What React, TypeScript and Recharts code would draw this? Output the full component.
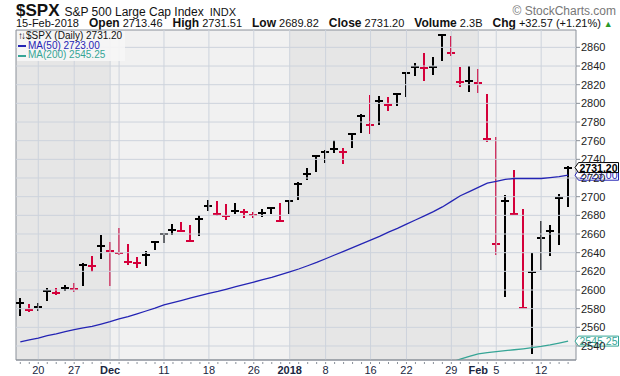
import React from "react";
import {
  ComposedChart,
  Bar,
  Line,
  XAxis,
  YAxis,
  ReferenceArea,
  ReferenceLine,
} from "recharts";

const FONT = '"Liberation Sans", Arial, Helvetica, sans-serif';

const dates = [
  "Nov 16", "Nov 17", "Nov 20", "Nov 21", "Nov 22", "Nov 24", "Nov 27", "Nov 28", "Nov 29", "Nov 30",
  "Dec 1", "Dec 4", "Dec 5", "Dec 6", "Dec 7", "Dec 8", "Dec 11", "Dec 12", "Dec 13", "Dec 14",
  "Dec 15", "Dec 18", "Dec 19", "Dec 20", "Dec 21", "Dec 22", "Dec 26", "Dec 27", "Dec 28", "Dec 29",
  "Jan 2", "Jan 3", "Jan 4", "Jan 5", "Jan 8", "Jan 9", "Jan 10", "Jan 11", "Jan 12", "Jan 16",
  "Jan 17", "Jan 18", "Jan 19", "Jan 22", "Jan 23", "Jan 24", "Jan 25", "Jan 26", "Jan 29", "Jan 30",
  "Jan 31", "Feb 1", "Feb 2", "Feb 5", "Feb 6", "Feb 7", "Feb 8", "Feb 9", "Feb 12", "Feb 13",
  "Feb 14", "Feb 15",
];

const high = [
  2590.09, 2583.96, 2584.64, 2601.19, 2600.94, 2604.21, 2606.41, 2627.69, 2634.89, 2657.74,
  2650.62, 2665.19, 2648.72, 2634.41, 2640.99, 2651.65, 2660.33, 2669.72, 2671.88, 2668.09,
  2679.63, 2694.97, 2694.44, 2691.01, 2692.64, 2685.35, 2682.74, 2685.64, 2687.66, 2692.12,
  2695.89, 2714.37, 2729.29, 2743.45, 2748.51, 2759.14, 2750.8, 2767.56, 2787.85, 2807.54,
  2807.04, 2805.83, 2810.33, 2833.03, 2842.24, 2852.97, 2848.56, 2872.87, 2870.62, 2837.75,
  2839.26, 2835.96, 2808.92, 2763.39, 2701.04, 2727.67, 2685.27, 2638.67, 2672.61, 2668.84,
  2702.1, 2731.51,
];

const low = [
  2572.95, 2577.62, 2578.24, 2589.17, 2595.23, 2600.42, 2598.87, 2605.44, 2620.32, 2633.93,
  2605.52, 2639.03, 2627.73, 2624.75, 2626.53, 2644.1, 2651.47, 2659.78, 2662.85, 2652.01,
  2659.14, 2685.92, 2680.74, 2676.11, 2682.4, 2678.13, 2677.96, 2678.91, 2682.69, 2673.61,
  2682.36, 2697.77, 2719.07, 2727.92, 2737.6, 2747.86, 2736.06, 2752.78, 2769.64, 2768.64,
  2778.38, 2792.56, 2798.08, 2808.12, 2830.59, 2824.81, 2830.94, 2846.18, 2851.48, 2818.27,
  2813.04, 2812.7, 2759.97, 2638.17, 2593.07, 2681.33, 2580.56, 2532.69, 2622.45, 2637.08,
  2648.87, 2689.82,
];

const close = [
  2585.64, 2578.85, 2582.14, 2599.03, 2597.08, 2602.42, 2601.42, 2627.04, 2626.07, 2647.58,
  2642.22, 2639.44, 2629.57, 2629.27, 2636.98, 2651.5, 2659.99, 2664.11, 2662.85, 2652.01,
  2675.81, 2690.16, 2681.47, 2679.25, 2684.57, 2683.34, 2680.5, 2682.62, 2687.54, 2673.61,
  2695.81, 2713.06, 2723.99, 2743.15, 2747.71, 2751.29, 2748.23, 2767.56, 2786.24, 2776.42,
  2802.56, 2798.03, 2810.3, 2832.97, 2839.13, 2837.54, 2839.25, 2872.87, 2853.53, 2822.43,
  2823.81, 2821.98, 2762.13, 2648.94, 2695.14, 2681.66, 2581.0, 2619.55, 2656.0, 2662.94,
  2698.63, 2731.2,
];

// close of the session before the first bar
const prevClose = 2564.62;

const ma50 = [
  2544.5, 2546.5, 2548.5, 2551, 2553, 2555.5, 2557.5, 2559.5, 2561, 2563.5,
  2566, 2569, 2571.5, 2574.5, 2577.5, 2580.5, 2584, 2586.5, 2589, 2591.5,
  2594, 2596.5, 2598.5, 2601, 2603.5, 2606, 2608.5, 2611, 2613.5, 2616.5,
  2619.5, 2622.5, 2626, 2629.5, 2633.5, 2637.5, 2641.5, 2645.5, 2649.5, 2653.5,
  2657.5, 2662, 2666, 2670.5, 2675, 2679.5, 2684, 2689, 2695, 2701,
  2705.5, 2710, 2714.5, 2716.5, 2718.5, 2719.5, 2719.5, 2719.5, 2719.5, 2720.5,
  2721.5, 2723,
];

const ma200 = [
  null, null, null, null, null, null, null, null, null, null,
  null, null, null, null, null, null, null, null, null, null,
  null, null, null, null, null, null, null, null, null, null,
  null, null, null, null, null, null, null, null, null, null,
  null, null, null, null, null, null, null, 2519, 2522.5, 2526,
  2529, 2531.5, 2533, 2534, 2535, 2536, 2537, 2538.2, 2539.5, 2541.2,
  2543.2, 2545.25,
];

const yTicks = [2540, 2560, 2580, 2600, 2620, 2640, 2660, 2680, 2700, 2720, 2740, 2760, 2780, 2800, 2820, 2840, 2860];

const xTickDates = ["Nov 20", "Nov 27", "Dec 1", "Dec 11", "Dec 18", "Dec 26", "Jan 2", "Jan 8", "Jan 16", "Jan 22", "Jan 29", "Feb 1", "Feb 5", "Feb 12"];
const xTickLabels = ["20", "27", "Dec", "11", "18", "26", "2018", "8", "16", "22", "29", "Feb", "5", "12"];
const boldLabels = ["Dec", "2018", "Feb"];
const gridDates = ["Nov 20", "Nov 27", "Dec 1", "Dec 4", "Dec 11", "Dec 18", "Dec 26", "Jan 2", "Jan 8", "Jan 16", "Jan 22", "Jan 29", "Feb 1", "Feb 5", "Feb 12"];
const darkMonths = [["Nov 16", "Dec 1"], ["Jan 2", "Feb 1"]];

const quote = [
  ["Open", "2713.46"],
  ["High", "2731.51"],
  ["Low", "2689.82"],
  ["Close", "2731.20"],
  ["Volume", "2.3B"],
  ["Chg", "+32.57 (+1.21%)"],
];

const X_MIN = -0.48;
const X_MAX = 61.88;
const Y_MIN = 2525;
const Y_MAX = 2878.6;
const UP = "#000000";
const DOWN = "#d4003a";
const MA50_COLOR = "#2424b4";
const MA200_COLOR = "#36a596";
const GRID = "#cdd3dc";

const idx = (d: string) => dates.indexOf(d);

const rows = dates.map((d, i) => ({
  i,
  date: d,
  range: [low[i], high[i]],
  close: close[i],
  up: close[i] >= (i === 0 ? prevClose : close[i - 1]),
  ma50: ma50[i],
  ma200: ma200[i],
}));

const HlcBar = (props: any) => {
  const { x, y, width, height, payload } = props;
  if (x == null || y == null) return null;
  const top = Math.min(y, y + height);
  const h = Math.abs(height);
  const cx = Math.round(x + width / 2);
  const [lo, hi] = payload.range;
  const cy = top + ((hi - payload.close) / (hi - lo || 1)) * h;
  const color = payload.up ? UP : DOWN;
  return (
    <g shapeRendering="crispEdges">
      <line x1={cx} x2={cx} y1={top - 1} y2={top + h + 1} stroke={color} strokeWidth={2} />
      <line x1={cx - 4} x2={cx + 4} y1={cy} y2={cy} stroke={color} strokeWidth={2} />
    </g>
  );
};

const XTick = (props: any) => {
  const { x, y, payload } = props;
  const k = xTickDates.indexOf(dates[payload.value]);
  const label = k >= 0 ? xTickLabels[k] : null;
  return (
    <g>
      <line x1={x} x2={x} y1={y} y2={y + 2} stroke="#8a9099" />
      {label && (
        <text
          x={x}
          y={y + 12}
          textAnchor="middle"
          fontFamily={FONT}
          fontSize={11}
          fontWeight={boldLabels.includes(label) ? "bold" : "normal"}
          fill="#1b2741"
        >
          {label}
        </text>
      )}
    </g>
  );
};

const Badge = (props: any) => {
  const { viewBox, text, color, bold } = props;
  if (!viewBox) return null;
  const x0 = viewBox.x + viewBox.width - 1;
  const y0 = viewBox.y;
  const w = 40;
  const pts = `${x0},${y0} ${x0 + 3.5},${y0 - 5} ${x0 + 3.5 + w},${y0 - 5} ${x0 + 3.5 + w},${y0 + 5} ${x0 + 3.5},${y0 + 5}`;
  return (
    <g>
      <polygon points={pts} fill="#ffffff" stroke={color} strokeWidth={1} />
      <text
        x={x0 + 3.5 + w / 2}
        y={y0 + 4}
        textAnchor="middle"
        fontFamily={FONT}
        fontSize={11}
        fontWeight={bold ? "bold" : "normal"}
        textLength={38}
        lengthAdjust="spacingAndGlyphs"
        fill={color}
      >
        {text}
      </text>
    </g>
  );
};

export default function App() {
  return (
    <div
      style={{
        position: "absolute",
        left: 0,
        top: 0,
        width: 620,
        height: 376,
        background: "#ffffff",
        fontFamily: FONT,
        overflow: "hidden",
      }}
    >
      <div style={{ position: "absolute", left: 16, top: 1, whiteSpace: "nowrap", color: "#111" }}>
        <span style={{ fontSize: 17, fontWeight: "bold" }}>$SPX</span>
        <span style={{ fontSize: 12, marginLeft: 5 }}>S&amp;P 500 Large Cap Index</span>
        <span style={{ fontSize: 11, marginLeft: 6 }}>INDX</span>
      </div>
      <div style={{ position: "absolute", right: 4, top: 4, fontSize: 12, color: "#777" }}>
        © StockCharts.com
      </div>
      <div style={{ position: "absolute", left: 16, top: 16, fontSize: 11, whiteSpace: "nowrap", color: "#111" }}>
        <span>15-Feb-2018</span>
        {quote.map(([k, v]) => (
          <span key={k} style={{ marginLeft: 10 }}>
            <b style={{ fontSize: 12 }}>{k}</b> {v}
          </span>
        ))}
        <span style={{ color: "#2a9a2a", fontSize: 9, marginLeft: 3 }}>▲</span>
      </div>

      <ComposedChart
        width={620}
        height={376}
        data={rows}
        margin={{ top: 30, right: 0, bottom: 0, left: 16 }}
      >
        <XAxis
          type="number"
          dataKey="i"
          domain={[X_MIN, X_MAX]}
          allowDataOverflow
          ticks={rows.map((r) => r.i)}
          interval={0}
          tick={<XTick />}
          tickLine={false}
          tickSize={0}
          height={16}
          axisLine={{ stroke: "#8a9099" }}
        />
        <YAxis
          orientation="right"
          domain={[Y_MIN, Y_MAX]}
          allowDataOverflow
          ticks={yTicks}
          interval={0}
          width={44}
          tickSize={4}
          tickMargin={1}
          axisLine={false}
          tickLine={{ stroke: "#8a9099" }}
          tick={{ fontSize: 11, fill: "#222", fontFamily: FONT, textAnchor: "start" }}
        />
        <ReferenceArea x1={X_MIN} x2={X_MAX} y1={Y_MIN} y2={Y_MAX} fill="#f1f1f1" fillOpacity={1} stroke="none" />
        {darkMonths.map(([a, b], k) => (
          <ReferenceArea
            key={k}
            x1={k === 0 ? X_MIN : idx(a)}
            x2={idx(b)}
            y1={Y_MIN}
            y2={Y_MAX}
            fill="#e6e6e6"
            fillOpacity={1}
            stroke="none"
          />
        ))}
        {yTicks.map((v) => (
          <ReferenceLine key={v} y={v} stroke={GRID} strokeWidth={1} />
        ))}
        {gridDates.map((d) => (
          <ReferenceLine key={d} x={idx(d)} stroke={GRID} strokeWidth={1} />
        ))}
        <Line
          dataKey="ma200"
          stroke={MA200_COLOR}
          strokeWidth={1.3}
          dot={false}
          activeDot={false}
          isAnimationActive={false}
        />
        <Line
          dataKey="ma50"
          stroke={MA50_COLOR}
          strokeWidth={1.3}
          dot={false}
          activeDot={false}
          isAnimationActive={false}
        />
        <Bar dataKey="range" barSize={8} shape={<HlcBar />} isAnimationActive={false} />
        <ReferenceArea x1={X_MIN} x2={X_MAX} y1={Y_MIN} y2={Y_MAX} fill="none" stroke="#8a9099" />
        <ReferenceLine y={ma50[61]} strokeOpacity={0} label={<Badge text="2723.00" color={MA50_COLOR} />} />
        <ReferenceLine y={close[61]} strokeOpacity={0} label={<Badge text="2731.20" color="#000" bold />} />
        <ReferenceLine y={ma200[61] as number} strokeOpacity={0} label={<Badge text="2545.25" color={MA200_COLOR} />} />
      </ComposedChart>

      <div
        style={{
          position: "absolute",
          left: 17,
          top: 31,
          padding: "0 3px 1px 1px",
          background: "rgba(246,246,246,0.9)",
          fontSize: 10,
          lineHeight: "9.6px",
          whiteSpace: "nowrap",
        }}
      >
        <div style={{ color: "#111" }}>
          <span style={{ letterSpacing: -2, marginRight: 2 }}>↑↓</span>$SPX (Daily) 2731.20
        </div>
        <div style={{ color: MA50_COLOR }}>
          <span style={{ display: "inline-block", width: 8, height: 2, background: MA50_COLOR, verticalAlign: "middle", marginRight: 2 }} />
          MA(50) 2723.00
        </div>
        <div style={{ color: MA200_COLOR }}>
          <span style={{ display: "inline-block", width: 8, height: 2, background: MA200_COLOR, verticalAlign: "middle", marginRight: 2 }} />
          MA(200) 2545.25
        </div>
      </div>
    </div>
  );
}
